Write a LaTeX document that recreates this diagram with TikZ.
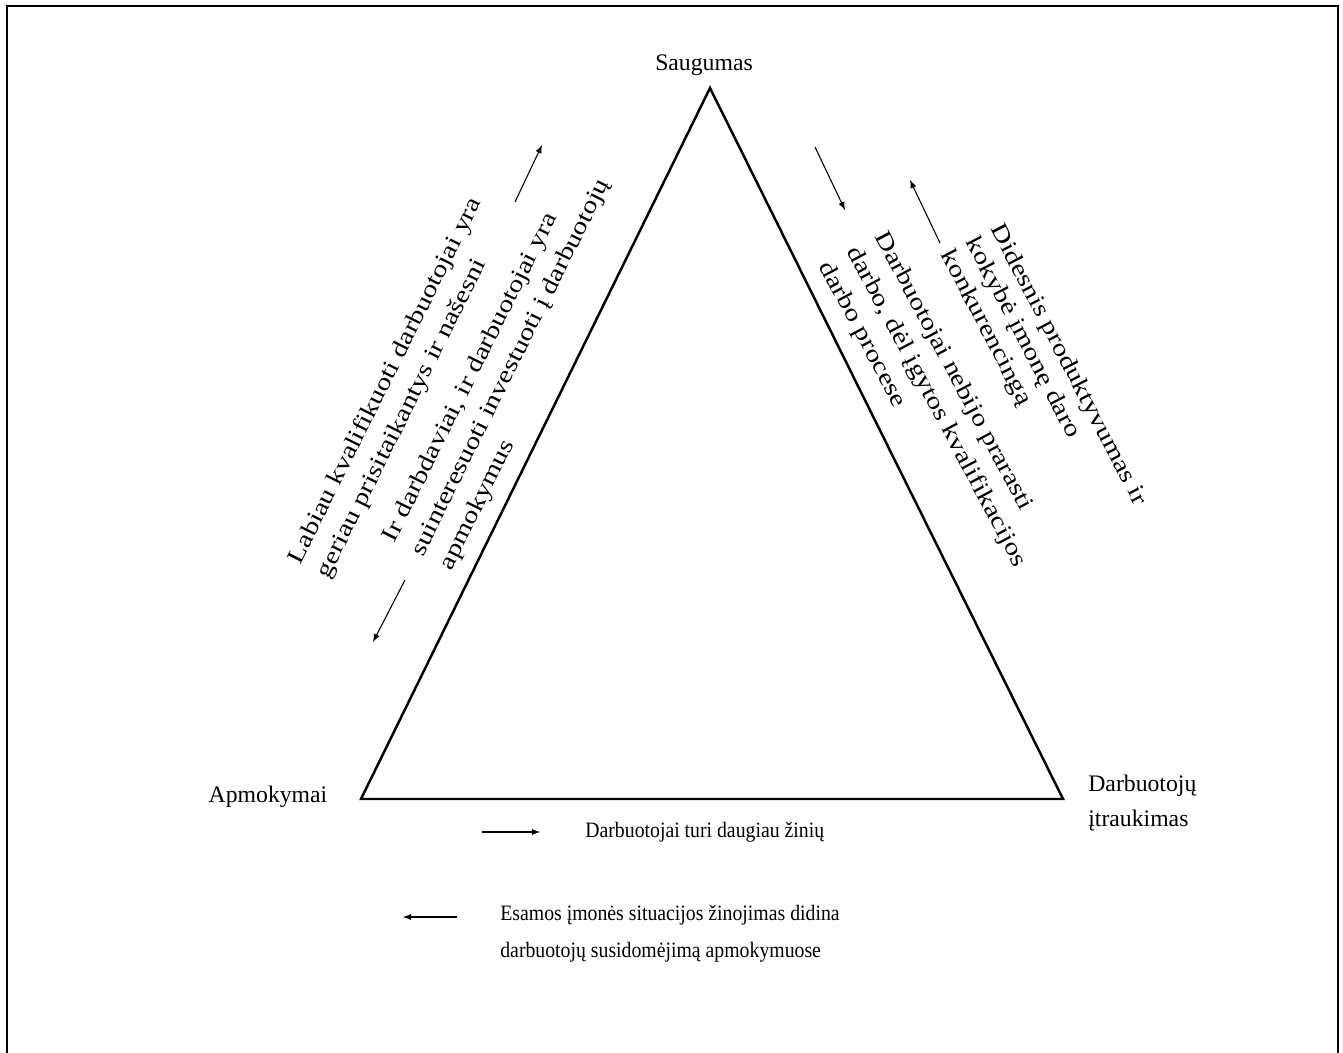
\documentclass[tikz,border=0pt]{standalone}
\usepackage{fontspec}
\setmainfont{Liberation Serif}
\newfontfamily\widefont[FakeStretch=1.22]{Liberation Serif}
\newfontfamily\narrowfont[FakeStretch=0.9]{Liberation Serif}
\usepackage{tikz}
\usetikzlibrary{arrows,positioning}

\begin{document}
\begin{tikzpicture}[x=0.02cm,y=-0.02cm,>=latex,
side/.style={font=\widefont\fontsize{13.5}{18}\selectfont,align=left,inner sep=0pt},
corner/.style={font=\fontsize{13.5}{20}\selectfont,inner sep=0pt},
legend/.style={font=\narrowfont\fontsize{12.5}{21}\selectfont,align=left,inner sep=0pt},
thin arrow/.style={->,line width=0.6pt}]
\useasboundingbox (0,0) rectangle (1343,1053);
\draw[line width=1.3pt] (7,1053) -- (7,6) -- (1338,6) -- (1338,1053);
% triangle
\coordinate (top) at (710,88);
\coordinate (left) at (361,799);
\coordinate (right) at (1063,799);
\draw[line width=1.4pt] (top) -- (left) -- (right) -- cycle;
\node[corner] (saugumas) at (704,65) {Saugumas};
\node[corner] (apmokymai) at (268,797) {Apmokymai};
\node[corner,align=left,anchor=west] (itraukimas) at (1088,803) {Darbuotojų\\įtraukimas};
% texts along the sides
\node[side,rotate=63.5] (kval) at (400,388) {Labiau kvalifikuoti darbuotojai yra\\geriau prisitaikantys ir našesni};
\node[side,rotate=63.5] (invest) at (511,368) {Ir darbdaviai, ir darbuotojai yra\\suinteresuoti investuoti į darbuotojų\\apmokymus};
\node[side,rotate=-62.5,font=\widefont\fontsize{13.5}{16}\selectfont] (konk) at (1043,378) {Didesnis produktyvumas ir\\kokybė įmonę daro\\konkurencingą};
\node[side,rotate=-62] (kvalif) at (936,407) {Darbuotojai nebijo prarasti\\darbo, dėl įgytos kvalifikacijos\\darbo procese};
% legend
\node[legend,anchor=west] (ziniu) at (585,832) {Darbuotojai turi daugiau žinių};
\node[legend,anchor=west] (situacija) at (500,934) {Esamos įmonės situacijos žinojimas didina\\darbuotojų susidomėjimą apmokymuose};
% arrows
\coordinate (l1a) at (515,202); \coordinate (l1b) at (542,145);
\coordinate (l2a) at (405,580); \coordinate (l2b) at (373,642);
\coordinate (r1a) at (815,147); \coordinate (r1b) at (845,210);
\coordinate (r2a) at (940,243); \coordinate (r2b) at (910,180);
\coordinate (b1a) at (482,832); \coordinate (b1b) at (540,832);
\coordinate (b2a) at (457,917); \coordinate (b2b) at (403,917);
\draw[thin arrow] (l1a) -- (l1b);
\draw[thin arrow] (l2a) -- (l2b);
\draw[thin arrow] (r1a) -- (r1b);
\draw[thin arrow] (r2a) -- (r2b);
\draw[thin arrow] (b1a) -- (b1b);
\draw[thin arrow] (b2a) -- (b2b);
\end{tikzpicture}
\end{document}
